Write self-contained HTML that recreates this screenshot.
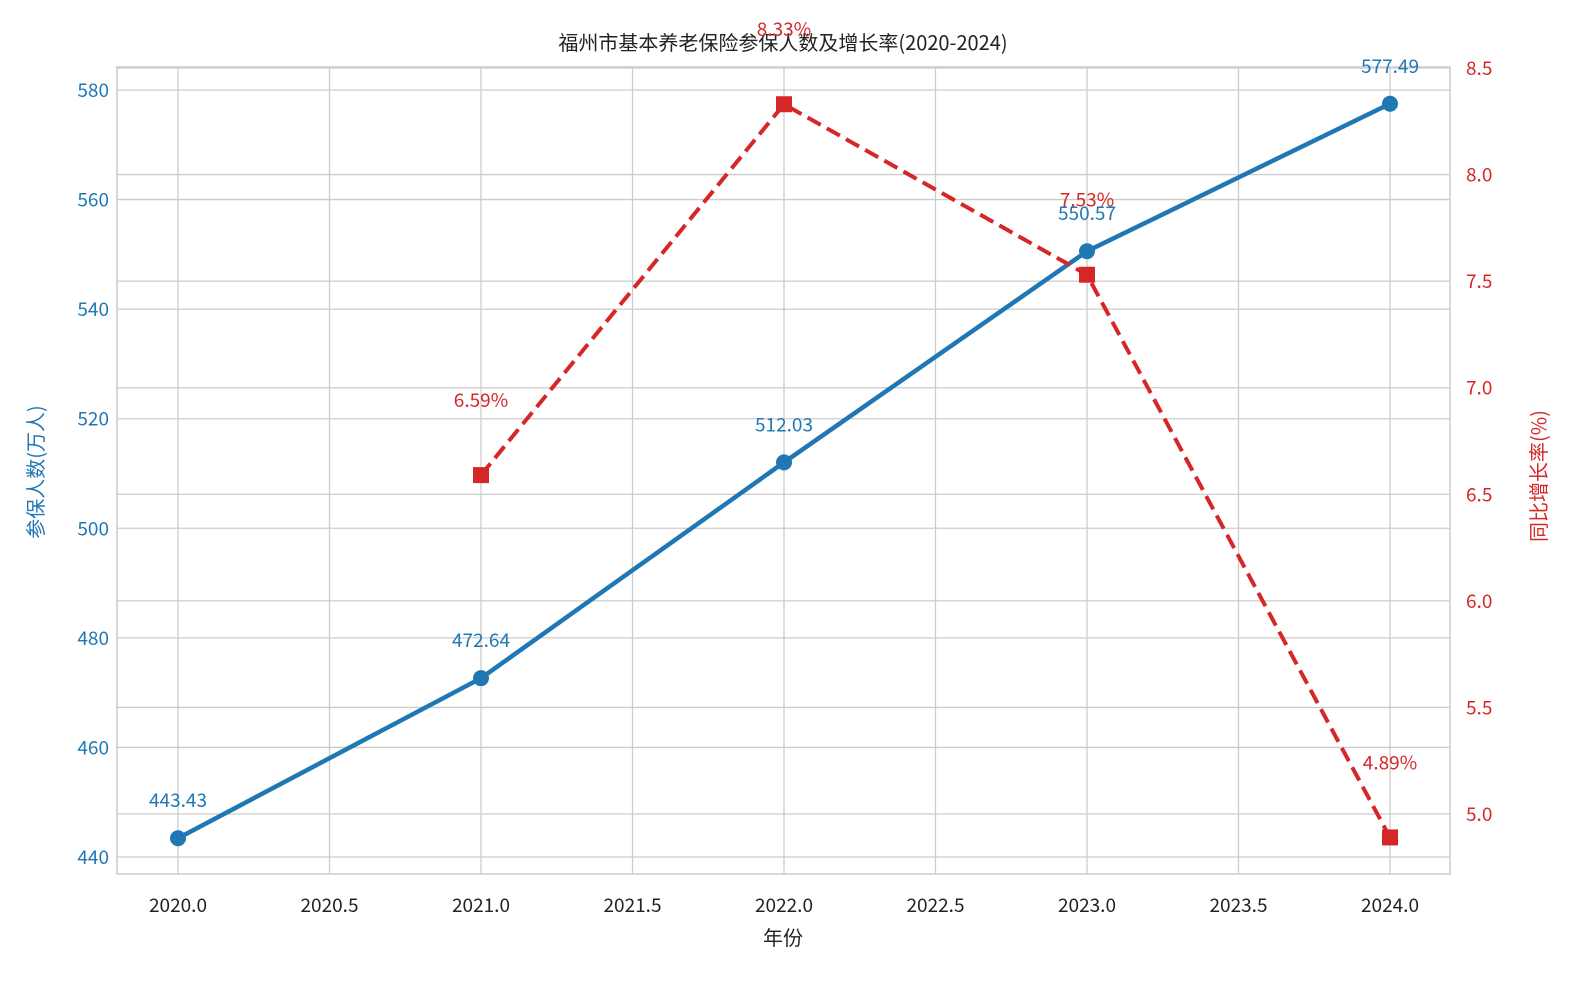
<!DOCTYPE html>
<html><head><meta charset="utf-8"><style>
body{margin:0;background:#fff;}
svg text{font-family:"WenQuanYi Zen Hei","Noto Sans CJK SC",sans-serif;}
</style></head><body>
<svg id="chart" width="1578" height="978" xmlns="http://www.w3.org/2000/svg">
<g id="grid"></g>
<g id="axes"></g>
<g id="series"></g>
</svg>
<script>
const years = [2020, 2021, 2022, 2023, 2024];
const insured = [443.43, 472.64, 512.03, 550.57, 577.49];
const growthYears = [2021, 2022, 2023, 2024];
const growth = [6.59, 8.33, 7.53, 4.89];
const xTicks = [2020.0, 2020.5, 2021.0, 2021.5, 2022.0, 2022.5, 2023.0, 2023.5, 2024.0];
const yLeftTicks = [440, 460, 480, 500, 520, 540, 560, 580];
const yRightTicks = [5.0, 5.5, 6.0, 6.5, 7.0, 7.5, 8.0, 8.5];

const L=117,R=1450,T=67,B=874;
const xs = v => 178 + (v-2020)*303;
const yl = v => 857 - (v-440)*(767/140);
const yr = v => 814 - (v-5.0)*(746/3.5);
const NS="http://www.w3.org/2000/svg";
function mk(parent,tag,attrs,text){const e=document.createElementNS(NS,tag);for(const k in attrs)e.setAttribute(k,attrs[k]);if(text!==undefined)e.textContent=text;document.getElementById(parent).appendChild(e);return e;}
const blue="#1f77b4", red="#d62728";

for(const t of xTicks){
  const e=mk('grid','line',{x1:xs(t),x2:xs(t),y1:T,y2:B,stroke:'#cccccc','stroke-width':1.3});
  
  
  const l=mk('axes','text',{x:xs(t),y:912,'text-anchor':'middle','font-size':19,fill:'#222'},t.toFixed(1));
  
  
}
for(const t of yLeftTicks){
  const e=mk('grid','line',{x1:L,x2:R,y1:yl(t),y2:yl(t),stroke:'#cccccc','stroke-width':1.3});
  
  
  const l=mk('axes','text',{x:109,y:yl(t)+7,'text-anchor':'end','font-size':19,fill:blue},String(t));
  
  
}
for(const t of yRightTicks){
  const e=mk('grid','line',{x1:L,x2:R,y1:yr(t),y2:yr(t),stroke:'#cccccc','stroke-width':1.3});
  
  
  const l=mk('axes','text',{x:1466,y:yr(t)+7,'text-anchor':'start','font-size':19,fill:red},t.toFixed(1));
  
  
}
const fr=mk('axes','rect',{x:L,y:T,width:R-L,height:B-T,fill:'none',stroke:'#cccccc','stroke-width':1.5});



let t=mk('axes','text',{x:783,y:50,'text-anchor':'middle','font-size':20,fill:'#222'},'福州市基本养老保险参保人数及增长率(2020-2024)');


t=mk('axes','text',{x:783,y:945,'text-anchor':'middle','font-size':20,fill:'#222'},'年份');


t=mk('axes','text',{x:0,y:0,'text-anchor':'middle','font-size':20,fill:blue,transform:'translate(43,472) rotate(-90)'},'参保人数(万人)');


t=mk('axes','text',{x:0,y:0,'text-anchor':'middle','font-size':20,fill:red,transform:'translate(1546,476) rotate(-90)'},'同比增长率(%)');



const pl=mk('series','polyline',{points:years.map((y,i)=>xs(y)+','+yl(insured[i])).join(' '),fill:'none',stroke:blue,'stroke-width':4.5});


years.forEach((y,i)=>{
  const c=mk('series','circle',{cx:xs(y),cy:yl(insured[i]),r:8,fill:blue});
  
  
  const l=mk('series','text',{x:xs(y),y:yl(insured[i])-31,'text-anchor':'middle','font-size':19,fill:blue},insured[i].toFixed(2));
  
  
});
const gl=mk('series','polyline',{points:growthYears.map((y,i)=>xs(y)+','+yr(growth[i])).join(' '),fill:'none',stroke:red,'stroke-width':4,'stroke-dasharray':'15,7'});


growthYears.forEach((y,i)=>{
  const s=mk('series','rect',{x:xs(y)-8,y:yr(growth[i])-8,width:16,height:16,fill:red});
  
  
  const l=mk('series','text',{x:xs(y),y:yr(growth[i])-68,'text-anchor':'middle','font-size':19,fill:red},growth[i].toFixed(2)+'%');
  
  
});
</script>
</body></html>
